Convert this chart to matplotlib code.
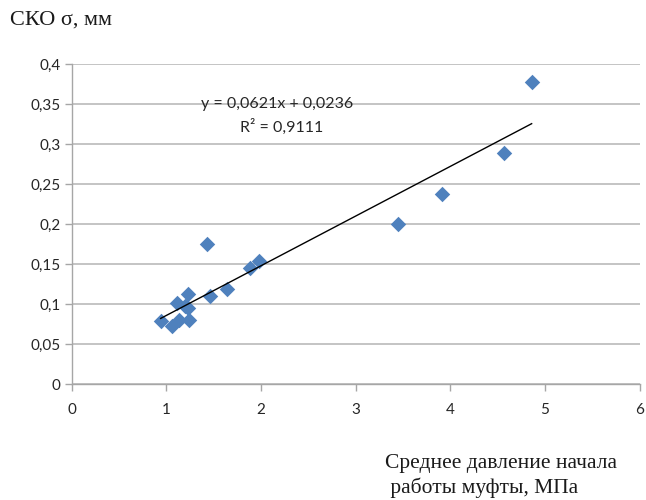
import matplotlib
matplotlib.use('Agg')
import matplotlib.pyplot as plt
from matplotlib.ticker import FuncFormatter
import numpy as np

# average start pressure (MPa) vs RMS deviation sigma (mm)
pressure = [0.94, 1.06, 1.13, 1.11, 1.20, 1.23, 1.24, 1.23, 1.43, 1.46,
            1.64, 1.88, 1.98, 3.45, 3.91, 4.57, 4.86]
sigma = [0.079, 0.073, 0.080, 0.101, 0.097, 0.113, 0.080, 0.095, 0.175, 0.110,
         0.119, 0.145, 0.154, 0.200, 0.238, 0.289, 0.378]

slope = 0.0621
intercept = 0.0236
r2 = 0.9111

x_ticks = [0, 1, 2, 3, 4, 5, 6]
y_ticks = [0, 0.05, 0.1, 0.15, 0.2, 0.25, 0.3, 0.35, 0.4]

grey = '#a6a6a6'
tick_font = 'Lato'
serif = 'Liberation Serif'

fig = plt.figure(figsize=(6.46, 5.0), dpi=100)
ax = fig.add_axes([0.111, 0.232, 0.879, 0.640])

ax.set_xlim(0, 6)
ax.set_ylim(0, 0.4)
ax.set_xticks(x_ticks)
ax.set_yticks(y_ticks)

def comma(v, pos):
    s = f'{v:.2f}'.rstrip('0').rstrip('.')
    return s.replace('.', ',')

ax.yaxis.set_major_formatter(FuncFormatter(comma))
ax.xaxis.set_major_formatter(FuncFormatter(comma))

ax.yaxis.grid(True, color='#bfbfbf', linewidth=1.3)
ax.set_axisbelow(True)
for side in ['top', 'right']:
    ax.spines[side].set_visible(False)
for side in ['left', 'bottom']:
    ax.spines[side].set_color(grey)
    ax.spines[side].set_linewidth(1.0)
ax.tick_params(axis='both', colors=grey, length=5, width=1.0, direction='out')
ax.tick_params(axis='y', pad=3)
ax.tick_params(axis='x', pad=9)
for lbl in ax.get_xticklabels() + ax.get_yticklabels():
    lbl.set_fontfamily(tick_font)
    lbl.set_fontsize(11)
    lbl.set_color('#262626')

ax.scatter(pressure, sigma, marker='D', s=62, color='#4f81bd', zorder=3,
           linewidths=0)

xs = np.array([min(pressure), max(pressure)])
ax.plot(xs, slope * xs + intercept, color='black', linewidth=1.0, zorder=4)

ax.text(2.17, 0.35, 'y = 0,0621x + 0,0236', ha='center', va='center',
        fontsize=11.5, family=tick_font, color='#262626')
ax.text(2.22, 0.3215, 'R² = 0,9111', ha='center', va='center',
        fontsize=11.5, family=tick_font, color='#262626')

fig.text(10 / 646, 1 - 20 / 500, 'СКО σ, мм', ha='left', va='center',
         fontsize=16, family=serif, color='#1a1a1a')
fig.text(385 / 646, 1 - 476 / 500, 'Среднее давление начала\n работы муфты, МПа',
         ha='left', va='center', fontsize=15.5, family=serif, color='#1a1a1a',
         linespacing=1.25)

fig.savefig('out.png', dpi=100)
